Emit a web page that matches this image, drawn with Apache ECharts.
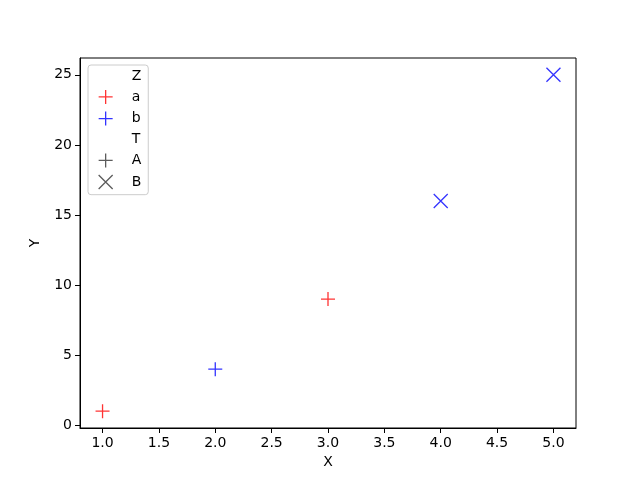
<!DOCTYPE html>
<html><head><meta charset="utf-8">
<script src="https://cdn.jsdelivr.net/npm/echarts@6/dist/echarts.min.js"></script>
<style>html,body{margin:0;padding:0;background:#fff}#c{width:640px;height:480px}</style>
</head><body><div id="c"></div>
<script>
// data
const aA = [[1, 1], [3, 9]];      // hue a, style A
const bA = [[2, 4]];              // hue b, style A
const bB = [[4, 16], [5, 25]];    // hue b, style B
const xTicks = [1.0, 1.5, 2.0, 2.5, 3.0, 3.5, 4.0, 4.5, 5.0];
const yTicks = [0, 5, 10, 15, 20, 25];
const legendNames = ['Z', 'a', 'b', 'T', 'A', 'B'];

const PLUS = 'path://M0,7L14,7M7,0L7,14';
const CROSS = 'path://M0,0L14,14M14,0L0,14';
const RED = '#ff0000', BLUE = '#0000ff', DARK = '#333333';
const FONT = 'DejaVu Sans';

function sym(path, col) {
  return { symbol: path, symbolSize: 14, itemStyle: { color: 'rgba(0,0,0,0)', borderColor: col, borderWidth: 1.3 } };
}
const legendStyle = {
  Z: { icon: 'rect', itemStyle: { color: 'rgba(0,0,0,0)', borderWidth: 0 } },
  a: { icon: PLUS, itemStyle: { color: 'rgba(0,0,0,0)', borderColor: RED, borderWidth: 1.3 } },
  b: { icon: PLUS, itemStyle: { color: 'rgba(0,0,0,0)', borderColor: BLUE, borderWidth: 1.3 } },
  T: { icon: 'rect', itemStyle: { color: 'rgba(0,0,0,0)', borderWidth: 0 } },
  A: { icon: PLUS, itemStyle: { color: 'rgba(0,0,0,0)', borderColor: DARK, borderWidth: 1.3 } },
  B: { icon: CROSS, itemStyle: { color: 'rgba(0,0,0,0)', borderColor: DARK, borderWidth: 1.3 } }
};

const chart = echarts.init(document.getElementById('c'), null, { renderer: 'canvas' });
const series = [
  Object.assign({ type: 'scatter', name: 'aA', data: aA, silent: true }, sym(PLUS, RED)),
  Object.assign({ type: 'scatter', name: 'bA', data: bA, silent: true }, sym(PLUS, BLUE)),
  Object.assign({ type: 'scatter', name: 'bB', data: bB, silent: true }, sym(CROSS, BLUE))
];
legendNames.forEach(n => series.push({ type: 'scatter', name: n, data: [] }));

chart.setOption({
  animation: false,
  backgroundColor: '#fff',
  grid: { left: 80, right: 64, top: 58, bottom: 52, show: true, borderColor: '#000', borderWidth: 1, backgroundColor: 'transparent' },
  legend: {
    orient: 'vertical', left: 88, top: 65,
    data: legendNames.map(n => Object.assign({ name: n }, legendStyle[n])),
    itemWidth: 14, itemHeight: 14, itemGap: 6.3,
    padding: [4, 7, 5, 10],
    backgroundColor: 'rgba(255,255,255,0.8)', borderColor: '#cccccc', borderWidth: 1, borderRadius: 3,
    textStyle: { fontFamily: FONT, fontSize: 14, color: '#000', padding: [0, 0, 0, 14] },
    selectedMode: false
  },
  xAxis: {
    type: 'value', min: 0.8, max: 5.2,
    name: 'X', nameLocation: 'middle', nameGap: 27,
    nameTextStyle: { fontFamily: FONT, fontSize: 14, color: '#000' },
    axisLine: { show: true, onZero: false, lineStyle: { color: '#000', width: 1 } },
    axisTick: { show: true, length: 5, lineStyle: { color: '#000' }, customValues: xTicks },
    axisLabel: { fontFamily: FONT, fontSize: 14, color: '#000', margin: 8, customValues: xTicks, formatter: v => v.toFixed(1) },
    splitLine: { show: false }
  },
  yAxis: {
    type: 'value', min: -0.2, max: 26.2,
    name: 'Y', nameLocation: 'middle', nameGap: 38, nameRotate: 90,
    nameTextStyle: { fontFamily: FONT, fontSize: 14, color: '#000' },
    axisLine: { show: true, onZero: false, lineStyle: { color: '#000', width: 1 } },
    axisTick: { show: true, length: 5, lineStyle: { color: '#000' }, customValues: yTicks },
    axisLabel: { fontFamily: FONT, fontSize: 14, color: '#000', margin: 8, customValues: yTicks, formatter: v => String(v) },
    splitLine: { show: false }
  },
  series: series
});
</script></body></html>
